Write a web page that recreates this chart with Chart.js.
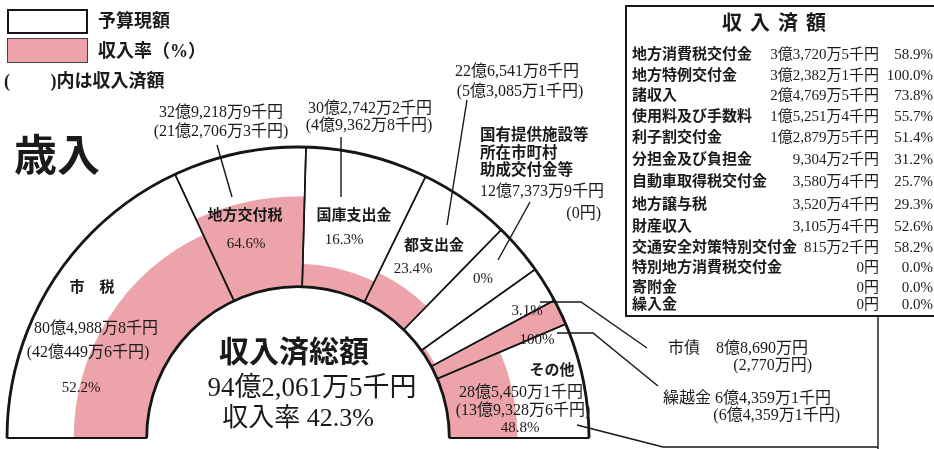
<!DOCTYPE html>
<html>
<head>
<meta charset="utf-8">
<script src="https://cdn.jsdelivr.net/npm/chart.js@4/dist/chart.umd.min.js"></script>
<style>
body{margin:0;background:#fff;}
#wrap{position:relative;width:934px;height:449px;overflow:hidden;font-family:"Liberation Serif","Noto Sans CJK JP",serif;color:#1a1a1a;}
#c{position:absolute;left:0;top:0;}
.t{position:absolute;white-space:nowrap;line-height:1;}
.box{position:absolute;box-sizing:border-box;}
</style>
</head>
<body>
<div id="wrap"><canvas id="c" width="934" height="449"></canvas></div>
<script>
// amounts are in 千円
const categories = ['市　税', '地方交付税', '国庫支出金', '都支出金', '国有提供施設等\n所在市町村\n助成交付金等', '市債', '繰越金', 'その他'];
const budget = [8049888, 3292189, 3027422, 2265418, 1273739, 886900, 643591, 2854501];
const received = [4204496, 2127063, 493628, 530851, 0, 27700, 643591, 1393286];
const rates = [52.2, 64.6, 16.3, 23.4, 0, 3.1, 100, 48.8];
const totalReceived = 9420615;
const totalRate = 42.3;

const tableNames = ['地方消費税交付金', '地方特例交付金', '諸収入', '使用料及び手数料', '利子割交付金', '分担金及び負担金', '自動車取得税交付金', '地方譲与税', '財産収入', '交通安全対策特別交付金', '特別地方消費税交付金', '寄附金', '繰入金'];
const tableAmounts = [337205, 323821, 247695, 152514, 128795, 93042, 35804, 35204, 31054, 8152, 0, 0, 0];
const tableRates = [58.9, 100.0, 73.8, 55.7, 51.4, 31.2, 25.7, 29.3, 52.6, 58.2, 0, 0, 0];

const pink = 'rgb(236,164,170)';
const ink = '#161616';
const wrap = document.getElementById('wrap');

function yen(v) {
	if (v === 0) return '0円';
	let oku = Math.floor(v / 100000);
	let man = Math.floor((v % 100000) / 10);
	let sen = v % 10;
	let s = '';
	if (oku) s += oku + '億';
	if (man) s += man.toLocaleString('en-US') + '万';
	if (sen) s += sen + '千';
	return s + '円';
}

function put(text, x, y, size, anchor, extra) {
	let d = document.createElement('div');
	d.className = 't';
	d.textContent = text;
	d.style.fontSize = size + 'px';
	d.style.top = y + 'px';
	if (anchor === 'r') {
		d.style.right = (934 - x) + 'px';
		d.style.transform = 'translateY(-50%)';
	} else if (anchor === 'l') {
		d.style.left = x + 'px';
		d.style.transform = 'translateY(-50%)';
	} else {
		d.style.left = x + 'px';
		d.style.transform = 'translate(-50%,-50%)';
	}
	if (extra) Object.assign(d.style, extra);
	wrap.appendChild(d);
	return d;
}

function box(x, y, w, h, style) {
	let d = document.createElement('div');
	d.className = 'box';
	Object.assign(d.style, {left: x + 'px', top: y + 'px', width: w + 'px', height: h + 'px'}, style);
	wrap.appendChild(d);
}

// leader lines (label -> segment)
const leaders = [
	[[217, 145], [232, 197]],
	[[341, 137], [341, 197]],
	[[467, 100], [447, 225]],
	[[530, 202], [498, 260]],
	[[540, 302], [581, 302], [647, 348]],
	[[557, 333], [593, 333], [658, 386]],
	[[577, 425], [663, 447], [878, 447]],
	[[878, 316], [878, 449]]
];

// pink part: radial share of the ring = collection rate
const rateFill = {
	id: 'rateFill',
	afterDatasetsUpdate(chart) {
		let outline = chart.getDatasetMeta(0).data;
		let fill = chart.getDatasetMeta(1).data;
		fill.forEach((arc, i) => {
			let o = outline[i];
			arc.innerRadius = o.innerRadius;
			arc.outerRadius = o.innerRadius + (o.outerRadius - o.innerRadius) * rates[i] / 100;
		});
	}
};

// heavier rim + leader lines
const rim = {
	id: 'rim',
	afterDatasetsDraw(chart) {
		let arcs = chart.getDatasetMeta(0).data;
		let a0 = arcs[0], a1 = arcs[arcs.length - 1];
		let ctx = chart.ctx;
		ctx.save();
		ctx.strokeStyle = ink;
		ctx.lineWidth = 2.8;
		ctx.beginPath();
		ctx.arc(a0.x, a0.y, a0.outerRadius, a0.startAngle, a1.endAngle);
		ctx.stroke();
		ctx.beginPath();
		ctx.arc(a0.x, a0.y, a0.innerRadius, a0.startAngle, a1.endAngle);
		ctx.stroke();
		ctx.lineWidth = 2.2;
		ctx.beginPath();
		ctx.moveTo(a0.x - a0.outerRadius, a0.y);
		ctx.lineTo(a0.x - a0.innerRadius, a0.y);
		ctx.moveTo(a0.x + a0.innerRadius, a0.y);
		ctx.lineTo(a0.x + a0.outerRadius, a0.y);
		ctx.stroke();
		ctx.lineWidth = 1.4;
		for (let pts of leaders) {
			ctx.beginPath();
			ctx.moveTo(pts[0][0], pts[0][1]);
			for (let p of pts.slice(1)) ctx.lineTo(p[0], p[1]);
			ctx.stroke();
		}
		ctx.restore();
	}
};

let ctx = document.getElementById('c').getContext('2d');
let chart = new Chart(ctx, {
	type: 'doughnut',
	data: {
		labels: categories,
		datasets: [{
			data: budget,
			backgroundColor: 'rgba(0,0,0,0)',
			borderColor: ink,
			borderWidth: 1.6
		}, {
			data: budget,
			backgroundColor: pink,
			borderWidth: 0,
			weight: 0
		}]
	},
	options: {
		responsive: false,
		animation: false,
		events: [],
		rotation: -90,
		circumference: 180,
		cutout: '52%',
		radius: 291,
		layout: {padding: {left: 0, right: 338, top: 147, bottom: 11}},
		plugins: {legend: {display: false}, tooltip: {enabled: false}}
	},
	plugins: [rateFill, rim]
});

// legend
box(7, 9, 81, 25, {border: '2px solid ' + ink, background: '#fff'});
box(7, 38, 81, 25, {border: '1.5px solid #444', background: pink});
put('予算現額', 98, 21, 18, 'l', {fontWeight: 600});
put('収入率（%）', 98, 51, 18, 'l', {fontWeight: 600});
put('(　　 )内は収入済額', 4, 81, 18, 'l', {fontWeight: 600});

put('歳入', 57, 156, 43, 'c', {fontWeight: 700});

// segment labels
const nm = {fontWeight: 600};
put(categories[0], 92, 287, 15, 'c', nm);
put(yen(budget[0]), 96, 328, 16);
put('(' + yen(received[0]) + ')', 88, 352, 16);
put(rates[0] + '%', 81, 387, 15);

put(categories[1], 245, 215, 15, 'c', nm);
put(rates[1] + '%', 246, 243, 15);
put(yen(budget[1]), 221, 112, 16);
put('(' + yen(received[1]) + ')', 221, 131, 16);

put(categories[2], 354, 215, 15, 'c', nm);
put(rates[2] + '%', 344, 239, 15);
put(yen(budget[2]), 370, 108, 16);
put('(' + yen(received[2]) + ')', 369, 125, 16);

put(categories[3], 434, 245, 15, 'c', nm);
put(rates[3] + '%', 413, 268, 15);
put(yen(budget[3]), 517, 71, 16);
put('(' + yen(received[3]) + ')', 520, 91, 16);

categories[4].split('\n').forEach((line, i) => put(line, 480, 135 + i * 17.5, 15.5, 'l', nm));
put(yen(budget[4]), 480, 191, 16, 'l');
put('(' + yen(received[4]) + ')', 601, 213, 16, 'r');
put(rates[4] + '%', 483, 278, 15);

put(rates[5] + '%', 527, 310, 15);
put(categories[5] + '　' + yen(budget[5]), 668, 348, 16, 'l');
put('(' + yen(received[5]) + ')', 812, 365, 16, 'r');

put(rates[6] + '%', 537, 339, 15);
put(categories[6] + ' ' + yen(budget[6]), 663, 398, 16, 'l');
put('(' + yen(received[6]) + ')', 840, 415, 16, 'r');

put(categories[7], 552, 370, 15, 'c', nm);
put(yen(budget[7]), 521, 392, 16);
put('(' + yen(received[7]) + ')', 523, 410, 16);
put(rates[7] + '%', 520, 427, 15);

// centre total
put('収入済総額', 294, 352, 30, 'c', {fontWeight: 600});
put(yen(totalReceived), 312, 387, 27);
put('収入率 ' + totalRate + '%', 298, 418, 26);

// table of その他 breakdown
box(625, 5, 330, 312, {border: '2px solid ' + ink});
put('収入済額', 774, 23, 20, 'c', {fontWeight: 700, letterSpacing: '8px', paddingLeft: '8px'});
const rowY = [54, 75, 95, 116, 137, 159, 181, 204, 226, 247, 267, 287, 304];
tableNames.forEach((n, i) => {
	put(n, 632, rowY[i], 15, 'l', nm);
	put(yen(tableAmounts[i]), 879, rowY[i], 15, 'r');
	put(tableRates[i].toFixed(1) + '%', 933, rowY[i], 15, 'r');
});
</script>
</body>
</html>
